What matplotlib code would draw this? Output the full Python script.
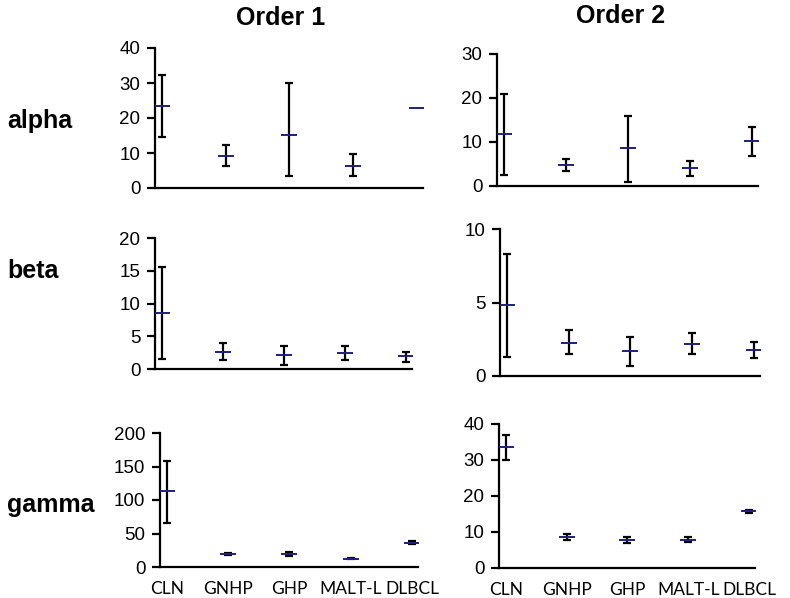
import numpy as np
import matplotlib
matplotlib.use("Agg")
import matplotlib.pyplot as plt

categories = ["CLN", "GNHP", "GHP", "MALT-L", "DLBCL"]

# Order 1
alpha1_mean = [23.4, 9.2, 15.1, 6.3, 22.8]
alpha1_lo = [14.5, 6.4, 3.5, 3.5, np.nan]
alpha1_hi = [32.3, 12.3, 30.0, 9.6, np.nan]

beta1_mean = [8.5, 2.6, 2.2, 2.5, 2.0]
beta1_lo = [1.6, 1.3, 0.6, 1.4, 1.06]
beta1_hi = [15.5, 3.95, 3.55, 3.45, 2.6]

gamma1_mean = [113.0, 19.4, 19.4, 12.4, 36.3]
gamma1_lo = [65.7, 17.6, 17.0, 11.4, 33.8]
gamma1_hi = [158.7, 21.2, 21.8, 13.4, 38.8]

# Order 2
alpha2_mean = [11.8, 4.8, 8.6, 4.2, 10.2]
alpha2_lo = [2.6, 3.4, 0.8, 2.3, 6.9]
alpha2_hi = [20.9, 6.1, 16.0, 5.7, 13.3]

beta2_mean = [4.85, 2.25, 1.7, 2.2, 1.8]
beta2_lo = [1.3, 1.5, 0.7, 1.5, 1.25]
beta2_hi = [8.3, 3.1, 2.65, 2.9, 2.3]

gamma2_mean = [33.6, 8.7, 7.9, 7.9, 15.8]
gamma2_lo = [30.0, 7.7, 7.0, 7.2, 15.4]
gamma2_hi = [37.0, 9.4, 8.7, 8.6, 16.2]

row_names = ["alpha", "beta", "gamma"]
col_titles = ["Order 1", "Order 2"]

panels = [
    [(alpha1_mean, alpha1_lo, alpha1_hi, 40, [0, 10, 20, 30, 40]),
     (alpha2_mean, alpha2_lo, alpha2_hi, 30, [0, 10, 20, 30])],
    [(beta1_mean, beta1_lo, beta1_hi, 20, [0, 5, 10, 15, 20]),
     (beta2_mean, beta2_lo, beta2_hi, 10, [0, 5, 10])],
    [(gamma1_mean, gamma1_lo, gamma1_hi, 200, [0, 50, 100, 150, 200]),
     (gamma2_mean, gamma2_lo, gamma2_hi, 40, [0, 10, 20, 30, 40])],
]

# axes boxes in pixels (left, right, top, bottom) measured from the top-left
W, H = 790, 598
boxes = [
    [(155, 423, 48, 188), (497, 758, 54, 186)],
    [(155, 412, 238, 369), (500, 760, 229, 376)],
    [(160, 418, 433, 567), (499, 755, 424, 568)],
]

fig = plt.figure(figsize=(7.9, 5.98), dpi=100)
fig.patch.set_facecolor("white")

x = np.arange(len(categories))
for r in range(3):
    for c in range(2):
        l, rr, t, b = boxes[r][c]
        ax = fig.add_axes([l / W, 1 - b / H, (rr - l) / W, (b - t) / H])
        mean, lo, hi, ymax, ticks = panels[r][c]
        mean = np.array(mean, dtype=float)
        lo = np.array(lo, dtype=float)
        hi = np.array(hi, dtype=float)
        ok = np.isfinite(lo)
        ax.errorbar(x[ok], mean[ok], yerr=[mean[ok] - lo[ok], hi[ok] - mean[ok]],
                    fmt="none", ecolor="black", elinewidth=1.6,
                    capsize=3.2, capthick=1.6, zorder=2)
        ax.plot(x, mean, ls="none", marker="_", ms=12, mew=1.4,
                color="#1f1f7a", zorder=3)
        ax.set_xlim(-0.115, 4.1)
        ax.set_ylim(0, ymax)
        ax.set_yticks(ticks)
        ax.set_yticklabels([str(v) for v in ticks], family="Liberation Sans",
                           fontsize=13.5)
        for s in ["top", "right"]:
            ax.spines[s].set_visible(False)
        for s in ["left", "bottom"]:
            ax.spines[s].set_linewidth(1.6)
        ax.tick_params(axis="y", direction="out", length=5.5, width=1.6, pad=5)
        ax.tick_params(axis="x", length=0, pad=10)
        if r == 2:
            ax.set_xticks(x)
            ax.set_xticklabels(categories, family="Lato", fontsize=12.5)
        else:
            ax.set_xticks([])
        ax.patch.set_alpha(0)

fig.text(281 / W, 1 - 18 / H, col_titles[0], ha="center", va="center",
         fontsize=18, fontweight="bold", family="Liberation Sans")
fig.text(621 / W, 1 - 16 / H, col_titles[1], ha="center", va="center",
         fontsize=18, fontweight="bold", family="Liberation Sans")

row_y = [121, 271, 505]
for name, yy in zip(row_names, row_y):
    fig.text(7 / W, 1 - yy / H, name, ha="left", va="center",
             fontsize=18, fontweight="bold", family="Liberation Sans")

fig.savefig("out.png", dpi=100)
